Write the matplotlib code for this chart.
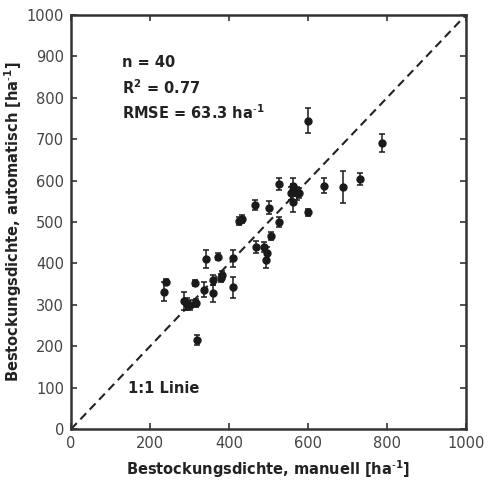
import numpy as np
import matplotlib
matplotlib.use('Agg')
import matplotlib.pyplot as plt

#%% Data

x_manual = [240, 236, 286, 293, 300, 316, 315, 318, 337, 341,
            360, 360, 371, 381, 380, 411, 411, 425, 432, 466,
            468, 489, 494, 497, 500, 506, 527, 527, 556, 561,
            563, 571, 578, 563, 601, 641, 689, 732, 787, 599]
y_auto = [355, 332, 310, 302, 300, 305, 353, 215, 336, 411,
          360, 328, 416, 372, 365, 412, 342, 502, 507, 541,
          439, 439, 409, 424, 535, 466, 499, 592, 569, 587,
          577, 569, 569, 549, 523, 588, 585, 604, 690, 744]
y_err = [8, 22, 22, 15, 12, 10, 8, 12, 18, 22,
         12, 20, 8, 10, 10, 20, 25, 10, 10, 12,
         15, 12, 20, 15, 15, 10, 12, 15, 15, 20,
         15, 15, 12, 25, 8, 18, 38, 15, 22, 30]

stats_lines = ['n = 40', r'R$^{\mathbf{2}}$ = 0.77', r'RMSE = 63.3 ha$^{\mathbf{\text{-}1}}$']

#%% Plot

plt.rcParams['font.family'] = ['DejaVu Sans']
plt.rcParams['mathtext.default'] = 'bf'

fig = plt.figure(figsize=(4.9, 4.8), dpi=100)
ax = fig.add_axes([0.145, 0.106, 0.806, 0.863])

ax.plot([0, 1000], [0, 1000], '--', color='#222222', lw=1.5, dashes=(4, 2.5))

ax.errorbar(x_manual, y_auto, yerr=y_err, fmt='o', color='#1a1a1a', ms=5,
            ecolor='#1a1a1a', elinewidth=1.1, capsize=2.5, capthick=1.1)

ax.set_xlim(0, 1000)
ax.set_ylim(0, 1000)
ax.set_xticks(np.arange(0, 1001, 200))
ax.set_yticks(np.arange(0, 1001, 100))

ax.tick_params(direction='in', top=True, right=True, length=4, width=1.2,
               labelsize=10.5, labelcolor='#444444', color='#333333', pad=5)
for s in ax.spines.values():
    s.set_linewidth(1.8)
    s.set_color('#333333')

ax.set_xlabel(r'Bestockungsdichte, manuell [ha$^{\mathbf{\text{-}1}}$]', fontsize=10.5,
              fontweight='bold', color='#222222', labelpad=5)
ax.set_ylabel(r'Bestockungsdichte, automatisch [ha$^{\mathbf{\text{-}1}}$]', fontsize=10.5,
              fontweight='bold', color='#222222')
ax.yaxis.set_label_coords(-0.118, 0.5)

for k, line in enumerate(stats_lines):
    ax.text(129, 884 - 60 * k, line, fontsize=10.5, fontweight='bold',
            color='#222222', va='center', ha='left')

ax.text(144, 99, '1:1 Linie', fontsize=10.5, fontweight='bold',
        color='#222222', va='center', ha='left')

fig.savefig('out.png', dpi=100)
